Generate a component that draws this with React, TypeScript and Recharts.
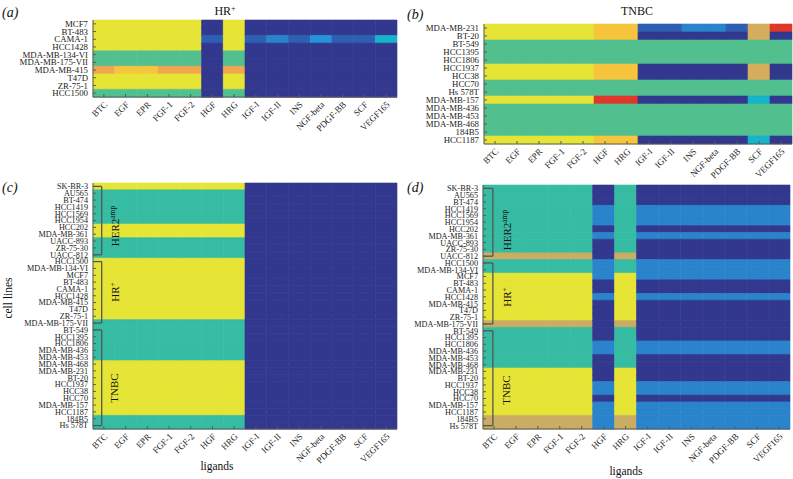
import React from "react";
import { BarChart, Bar, Cell, XAxis, YAxis, ReferenceLine } from "recharts";

const SERIF = "'Liberation Serif', 'DejaVu Serif', serif";

const ligands = ["BTC", "EGF", "EPR", "FGF-1", "FGF-2", "HGF", "HRG", "IGF-I", "IGF-II", "INS", "NGF-beta", "PDGF-BB", "SCF", "VEGF165"];

// colour level -> fill
const palette = [
  "#33388f", // 0 dark blue
  "#2d5fb3", // 1 blue
  "#2a84cb", // 2 light blue
  "#2493d9", // 3 lighter blue
  "#16b4cb", // 4 cyan
  "#36bca2", // 5 teal
  "#52bf8f", // 6 green teal
  "#c9ad62", // 7 tan
  "#d6ad5d", // 8 light tan
  "#e6e435", // 9 yellow
  "#f7c53c", // 10 gold
  "#f2a54f", // 11 orange
  "#e0372b", // 12 red
];

const hrLines = ["MCF7", "BT-483", "CAMA-1", "HCC1428", "MDA-MB-134-VI", "MDA-MB-175-VII", "MDA-MB-415", "T47D", "ZR-75-1", "HCC1500"];
const hrValues = [
  [9, 9, 9, 9, 9, 0, 9, 0, 0, 0, 0, 0, 0, 0],
  [9, 9, 9, 9, 9, 0, 9, 0, 0, 0, 0, 0, 0, 0],
  [9, 9, 9, 9, 9, 1, 9, 1, 2, 1, 3, 1, 1, 4],
  [9, 9, 9, 9, 9, 0, 9, 0, 0, 0, 0, 0, 0, 0],
  [6, 6, 6, 6, 6, 0, 6, 0, 0, 0, 0, 0, 0, 0],
  [6, 6, 6, 6, 6, 0, 6, 0, 0, 0, 0, 0, 0, 0],
  [11, 10, 10, 11, 11, 0, 11, 0, 0, 0, 0, 0, 0, 0],
  [9, 9, 9, 9, 9, 0, 9, 0, 0, 0, 0, 0, 0, 0],
  [9, 9, 9, 9, 9, 0, 9, 0, 0, 0, 0, 0, 0, 0],
  [6, 6, 6, 6, 6, 0, 6, 0, 0, 0, 0, 0, 0, 0],
];

const tnbcLines = ["MDA-MB-231", "BT-20", "BT-549", "HCC1395", "HCC1806", "HCC1937", "HCC38", "HCC70", "Hs 578T", "MDA-MB-157", "MDA-MB-436", "MDA-MB-453", "MDA-MB-468", "184B5", "HCC1187"];
const tnbcValues = [
  [9, 9, 9, 9, 9, 10, 10, 1, 1, 2, 2, 1, 8, 12],
  [9, 9, 9, 9, 9, 10, 10, 0, 0, 0, 0, 0, 8, 0],
  [6, 6, 6, 6, 6, 6, 6, 6, 6, 6, 6, 6, 6, 6],
  [6, 6, 6, 6, 6, 6, 6, 6, 6, 6, 6, 6, 6, 6],
  [6, 6, 6, 6, 6, 6, 6, 6, 6, 6, 6, 6, 6, 6],
  [9, 9, 9, 9, 9, 10, 10, 0, 0, 0, 0, 0, 8, 0],
  [9, 9, 9, 9, 9, 10, 10, 0, 0, 0, 0, 0, 8, 0],
  [6, 6, 6, 6, 6, 6, 6, 6, 6, 6, 6, 6, 6, 6],
  [6, 6, 6, 6, 6, 6, 6, 6, 6, 6, 6, 6, 6, 6],
  [9, 9, 9, 9, 9, 12, 12, 0, 0, 0, 0, 0, 4, 0],
  [6, 6, 6, 6, 6, 6, 6, 6, 6, 6, 6, 6, 6, 6],
  [6, 6, 6, 6, 6, 6, 6, 6, 6, 6, 6, 6, 6, 6],
  [6, 6, 6, 6, 6, 6, 6, 6, 6, 6, 6, 6, 6, 6],
  [6, 6, 6, 6, 6, 6, 6, 6, 6, 6, 6, 6, 6, 6],
  [9, 9, 9, 9, 9, 10, 10, 0, 0, 0, 0, 0, 4, 0],
];

const allLines = [
  "SK-BR-3", "AU565", "BT-474", "HCC1419", "HCC1569", "HCC1954", "HCC202", "MDA-MB-361", "UACC-893", "ZR-75-30", "UACC-812",
  "HCC1500", "MDA-MB-134-VI", "MCF7", "BT-483", "CAMA-1", "HCC1428", "MDA-MB-415", "T47D", "ZR-75-1", "MDA-MB-175-VII",
  "BT-549", "HCC1395", "HCC1806", "MDA-MB-436", "MDA-MB-453", "MDA-MB-468", "MDA-MB-231", "BT-20", "HCC1937", "HCC38",
  "HCC70", "MDA-MB-157", "HCC1187", "184B5", "Hs 578T",
];

const measuredValues = [
  [9, 9, 9, 9, 9, 9, 9, 0, 0, 0, 0, 0, 0, 0],
  [5, 5, 5, 5, 5, 5, 5, 0, 0, 0, 0, 0, 0, 0],
  [5, 5, 5, 5, 5, 5, 5, 0, 0, 0, 0, 0, 0, 0],
  [5, 5, 5, 5, 5, 5, 5, 0, 0, 0, 0, 0, 0, 0],
  [5, 5, 5, 5, 5, 5, 5, 0, 0, 0, 0, 0, 0, 0],
  [5, 5, 5, 5, 5, 5, 5, 0, 0, 0, 0, 0, 0, 0],
  [9, 9, 9, 9, 9, 9, 9, 0, 0, 0, 0, 0, 0, 0],
  [9, 9, 9, 9, 9, 9, 9, 0, 0, 0, 0, 0, 0, 0],
  [5, 5, 5, 5, 5, 5, 5, 0, 0, 0, 0, 0, 0, 0],
  [5, 5, 5, 5, 5, 5, 5, 0, 0, 0, 0, 0, 0, 0],
  [5, 5, 5, 5, 5, 5, 5, 0, 0, 0, 0, 0, 0, 0],
  [9, 9, 9, 9, 9, 9, 9, 0, 0, 0, 0, 0, 0, 0],
  [9, 9, 9, 9, 9, 9, 9, 0, 0, 0, 0, 0, 0, 0],
  [9, 9, 9, 9, 9, 9, 9, 0, 0, 0, 0, 0, 0, 0],
  [9, 9, 9, 9, 9, 9, 9, 0, 0, 0, 0, 0, 0, 0],
  [9, 9, 9, 9, 9, 9, 9, 0, 0, 0, 0, 0, 0, 0],
  [9, 9, 9, 9, 9, 9, 9, 0, 0, 0, 0, 0, 0, 0],
  [9, 9, 9, 9, 9, 9, 9, 0, 0, 0, 0, 0, 0, 0],
  [9, 9, 9, 9, 9, 9, 9, 0, 0, 0, 0, 0, 0, 0],
  [9, 9, 9, 9, 9, 9, 9, 0, 0, 0, 0, 0, 0, 0],
  [5, 5, 5, 5, 5, 5, 5, 0, 0, 0, 0, 0, 0, 0],
  [5, 5, 5, 5, 5, 5, 5, 0, 0, 0, 0, 0, 0, 0],
  [5, 5, 5, 5, 5, 5, 5, 0, 0, 0, 0, 0, 0, 0],
  [5, 5, 5, 5, 5, 5, 5, 0, 0, 0, 0, 0, 0, 0],
  [5, 5, 5, 5, 5, 5, 5, 0, 0, 0, 0, 0, 0, 0],
  [5, 5, 5, 5, 5, 5, 5, 0, 0, 0, 0, 0, 0, 0],
  [9, 9, 9, 9, 9, 9, 9, 0, 0, 0, 0, 0, 0, 0],
  [9, 9, 9, 9, 9, 9, 9, 0, 0, 0, 0, 0, 0, 0],
  [9, 9, 9, 9, 9, 9, 9, 0, 0, 0, 0, 0, 0, 0],
  [9, 9, 9, 9, 9, 9, 9, 0, 0, 0, 0, 0, 0, 0],
  [9, 9, 9, 9, 9, 9, 9, 0, 0, 0, 0, 0, 0, 0],
  [9, 9, 9, 9, 9, 9, 9, 0, 0, 0, 0, 0, 0, 0],
  [9, 9, 9, 9, 9, 9, 9, 0, 0, 0, 0, 0, 0, 0],
  [9, 9, 9, 9, 9, 9, 9, 0, 0, 0, 0, 0, 0, 0],
  [5, 5, 5, 5, 5, 5, 5, 0, 0, 0, 0, 0, 0, 0],
  [5, 5, 5, 5, 5, 5, 5, 0, 0, 0, 0, 0, 0, 0],
];

const modelValues = [
  [5, 5, 5, 5, 5, 0, 5, 0, 0, 0, 0, 0, 0, 0],
  [5, 5, 5, 5, 5, 0, 5, 0, 0, 0, 0, 0, 0, 0],
  [5, 5, 5, 5, 5, 0, 5, 0, 0, 0, 0, 0, 0, 0],
  [5, 5, 5, 5, 5, 2, 5, 2, 2, 2, 2, 2, 2, 2],
  [5, 5, 5, 5, 5, 2, 5, 2, 2, 2, 2, 2, 2, 2],
  [5, 5, 5, 5, 5, 2, 5, 2, 2, 2, 2, 2, 2, 2],
  [5, 5, 5, 5, 5, 0, 5, 0, 0, 0, 0, 0, 0, 0],
  [5, 5, 5, 5, 5, 2, 5, 2, 2, 2, 2, 2, 2, 2],
  [5, 5, 5, 5, 5, 0, 5, 0, 0, 0, 0, 0, 0, 0],
  [5, 5, 5, 5, 5, 0, 5, 0, 0, 0, 0, 0, 0, 0],
  [7, 7, 7, 7, 7, 0, 7, 0, 0, 0, 0, 0, 0, 0],
  [5, 5, 5, 5, 5, 2, 5, 2, 2, 2, 2, 2, 2, 2],
  [5, 5, 5, 5, 5, 2, 5, 2, 2, 2, 2, 2, 2, 2],
  [9, 9, 9, 9, 9, 2, 9, 2, 2, 2, 2, 2, 2, 2],
  [9, 9, 9, 9, 9, 0, 9, 0, 0, 0, 0, 0, 0, 0],
  [9, 9, 9, 9, 9, 0, 9, 0, 0, 0, 0, 0, 0, 0],
  [9, 9, 9, 9, 9, 2, 9, 2, 2, 2, 2, 2, 2, 2],
  [9, 9, 9, 9, 9, 0, 9, 0, 0, 0, 0, 0, 0, 0],
  [9, 9, 9, 9, 9, 0, 9, 0, 0, 0, 0, 0, 0, 0],
  [9, 9, 9, 9, 9, 0, 9, 0, 0, 0, 0, 0, 0, 0],
  [7, 7, 7, 7, 7, 0, 7, 0, 0, 0, 0, 0, 0, 0],
  [5, 5, 5, 5, 5, 0, 5, 0, 0, 0, 0, 0, 0, 0],
  [5, 5, 5, 5, 5, 0, 5, 0, 0, 0, 0, 0, 0, 0],
  [5, 5, 5, 5, 5, 2, 5, 2, 2, 2, 2, 2, 2, 2],
  [5, 5, 5, 5, 5, 2, 5, 2, 2, 2, 2, 2, 2, 2],
  [5, 5, 5, 5, 5, 0, 5, 0, 0, 0, 0, 0, 0, 0],
  [5, 5, 5, 5, 5, 0, 5, 0, 0, 0, 0, 0, 0, 0],
  [9, 9, 9, 9, 9, 0, 9, 0, 0, 0, 0, 0, 0, 0],
  [9, 9, 9, 9, 9, 0, 9, 0, 0, 0, 0, 0, 0, 0],
  [9, 9, 9, 9, 9, 2, 9, 2, 2, 2, 2, 2, 2, 2],
  [9, 9, 9, 9, 9, 2, 9, 2, 2, 2, 2, 2, 2, 2],
  [9, 9, 9, 9, 9, 0, 9, 0, 0, 0, 0, 0, 0, 0],
  [9, 9, 9, 9, 9, 2, 9, 2, 2, 2, 2, 2, 2, 2],
  [9, 9, 9, 9, 9, 2, 9, 2, 2, 2, 2, 2, 2, 2],
  [7, 7, 7, 7, 7, 2, 7, 2, 2, 2, 2, 2, 2, 2],
  [7, 7, 7, 7, 7, 2, 7, 2, 2, 2, 2, 2, 2, 2],
];

// subtype groups marked by brackets in (c) and (d)
const groups = [
  { first: "SK-BR-3", last: "UACC-812" },
  { first: "HCC1500", last: "MDA-MB-175-VII" },
  { first: "BT-549", last: "Hs 578T" },
];

const colTicks = ligands.map((_, j) => j + 0.5);

const buildRows = (lines: string[], values: number[][]) =>
  lines.map((line, i) => {
    const row: Record<string, any> = { line };
    values[i].forEach((v, j) => {
      row[`k${j}`] = 1;
      row[`v${j}`] = v;
    });
    return row;
  });

const LigandTick = (props: any) => {
  const { x, y, payload } = props;
  const px = x + 2;
  const py = y;
  return (
    <text
      x={px}
      y={py}
      dy={3}
      transform={`rotate(-45 ${px} ${py})`}
      textAnchor="end"
      fontSize={9}
      fontFamily={SERIF}
      fill="#222"
    >
      {ligands[Math.floor(payload.value)]}
    </text>
  );
};

interface HeatmapProps {
  lines: string[];
  values: number[][];
  left: number;
  top: number;
  width: number;
  height: number;
  plotTop: number;
  plotRight: number;
  yWidth: number;
  xHeight: number;
  yFont: number;
  bracketX?: number;
}

function Heatmap({ lines, values, left, top, width, height, plotTop, plotRight, yWidth, xHeight, yFont, bracketX }: HeatmapProps) {
  const rows = buildRows(lines, values);
  const axisColor = "#5a5a5a";
  return (
    <div style={{ position: "absolute", left, top }}>
      <BarChart
        width={width}
        height={height}
        data={rows}
        layout="vertical"
        margin={{ top: plotTop, right: plotRight, left: 0, bottom: 0 }}
        barCategoryGap={0}
        barGap={0}
      >
        {ligands.map((lg, j) => (
          <Bar key={lg} dataKey={`k${j}`} stackId="cells" isAnimationActive={false}>
            {rows.map((r, i) => (
              <Cell key={i} fill={palette[r[`v${j}`]]} stroke={palette[r[`v${j}`]]} strokeWidth={0.6} />
            ))}
          </Bar>
        ))}
        {bracketX !== undefined &&
          groups.flatMap((g, gi) => [
            <ReferenceLine key={`t${gi}`} segment={[{ x: 0, y: g.first }, { x: bracketX, y: g.first }]} stroke="#555" strokeWidth={1.3} />,
            <ReferenceLine key={`v${gi}`} segment={[{ x: bracketX, y: g.first }, { x: bracketX, y: g.last }]} stroke="#555" strokeWidth={1.3} />,
            <ReferenceLine key={`b${gi}`} segment={[{ x: 0, y: g.last }, { x: bracketX, y: g.last }]} stroke="#555" strokeWidth={1.3} />,
          ])}
        <XAxis
          type="number"
          domain={[0, 14]}
          ticks={colTicks}
          interval={0}
          height={xHeight}
          tickSize={-3}
          tickMargin={9}
          tick={<LigandTick />}
          stroke={axisColor}
        />
        <XAxis
          xAxisId="top"
          orientation="top"
          type="number"
          domain={[0, 14]}
          ticks={colTicks}
          interval={0}
          height={0}
          tickSize={-3}
          tick={false}
          stroke={axisColor}
        />
        <YAxis
          type="category"
          dataKey="line"
          width={yWidth}
          interval={0}
          tickSize={-3}
          tickMargin={8}
          tick={{ fontSize: yFont, fill: "#222", fontFamily: SERIF }}
          stroke={axisColor}
        />
        <YAxis
          yAxisId="right"
          orientation="right"
          type="category"
          dataKey="line"
          width={0}
          interval={0}
          tickSize={-3}
          tick={false}
          stroke={axisColor}
        />
      </BarChart>
    </div>
  );
}

export default function App() {
  const txt = { fontFamily: SERIF, fill: "#111" } as const;
  return (
    <div style={{ position: "absolute", left: 0, top: 0, width: 793, height: 479, background: "#fff", overflow: "hidden" }}>
      <Heatmap lines={hrLines} values={hrValues} left={0} top={0} width={400} height={165} plotTop={20} plotRight={3} yWidth={93} xHeight={68} yFont={8.8} />
      <Heatmap lines={tnbcLines} values={tnbcValues} left={400} top={0} width={393} height={210} plotTop={24} plotRight={1} yWidth={84} xHeight={66} yFont={8.8} />
      <Heatmap lines={allLines} values={measuredValues} left={0} top={170} width={400} height={309} plotTop={13} plotRight={3} yWidth={93} xHeight={50} yFont={8.2} bracketX={0.4} />
      <Heatmap lines={allLines} values={modelValues} left={400} top={170} width={393} height={309} plotTop={15} plotRight={3} yWidth={83} xHeight={50} yFont={8.2} bracketX={0.45} />
      <svg width={793} height={479} style={{ position: "absolute", left: 0, top: 0, pointerEvents: "none" }}>
        <text x={2} y={17} fontSize={14} fontStyle="italic" {...txt}>(a)</text>
        <text x={407} y={19} fontSize={14} fontStyle="italic" {...txt}>(b)</text>
        <text x={2} y={192} fontSize={14} fontStyle="italic" {...txt}>(c)</text>
        <text x={407} y={192} fontSize={14} fontStyle="italic" {...txt}>(d)</text>
        <text x={225} y={15} fontSize={12} textAnchor="middle" {...txt}>
          HR<tspan dy={-4} fontSize={8}>+</tspan>
        </text>
        <text x={637} y={15} fontSize={12} textAnchor="middle" {...txt}>TNBC</text>
        <text x={12} y={298} fontSize={11.5} textAnchor="middle" transform="rotate(-90 12 298)" {...txt}>cell lines</text>
        <text x={217} y={470} fontSize={11.5} textAnchor="middle" {...txt}>ligands</text>
        <text x={626} y={475} fontSize={11.5} textAnchor="middle" {...txt}>ligands</text>
        <text x={119} y={226} fontSize={11} textAnchor="middle" transform="rotate(-90 119 226)" {...txt}>
          HER2<tspan dy={-4} fontSize={7.5}>amp</tspan>
        </text>
        <text x={119} y={292} fontSize={11} textAnchor="middle" transform="rotate(-90 119 292)" {...txt}>
          HR<tspan dy={-4} fontSize={7.5}>+</tspan>
        </text>
        <text x={118} y={388} fontSize={11} textAnchor="middle" transform="rotate(-90 118 388)" {...txt}>TNBC</text>
        <text x={511} y={230} fontSize={11} textAnchor="middle" transform="rotate(-90 511 230)" {...txt}>
          HER2<tspan dy={-4} fontSize={7.5}>amp</tspan>
        </text>
        <text x={511} y={297} fontSize={11} textAnchor="middle" transform="rotate(-90 511 297)" {...txt}>
          HR<tspan dy={-4} fontSize={7.5}>+</tspan>
        </text>
        <text x={510} y={390} fontSize={11} textAnchor="middle" transform="rotate(-90 510 390)" {...txt}>TNBC</text>
      </svg>
    </div>
  );
}
